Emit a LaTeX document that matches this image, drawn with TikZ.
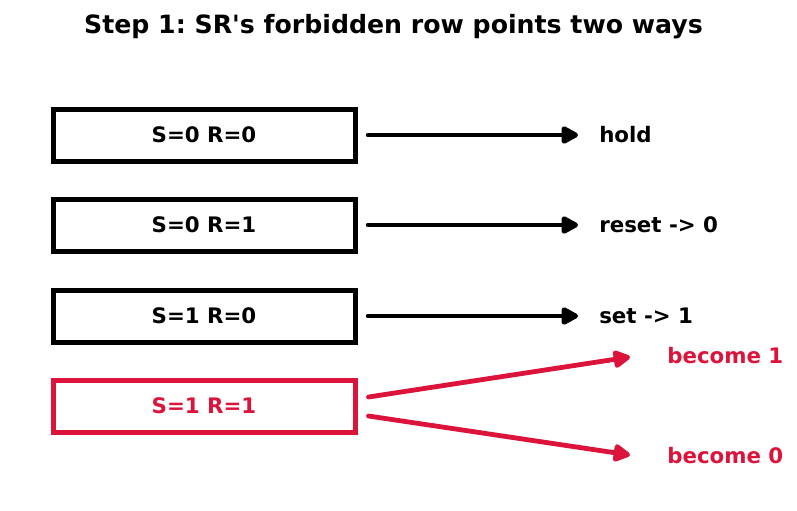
\documentclass[tikz,border=0pt]{standalone}
\usepackage{fontspec}
\setmainfont{DejaVu Sans}
\usepackage{tikz}
\usetikzlibrary{
    calc,
    arrows.meta
}
\definecolor{Forbid}{RGB}{220,20,60}
\frenchspacing

\begin{document}
\begin{tikzpicture}[x=0.75pt,y=-0.75pt,
    state/.style={draw,line width=3.75pt,minimum width=226.5pt,minimum height=39pt,
        font=\fontsize{16}{19}\selectfont\bfseries},
    result/.style={anchor=west,inner sep=0pt,font=\fontsize{16}{19}\selectfont\bfseries},
    goes/.style={line width=3.6pt,line cap=round,-{Triangle[length=14.5pt,width=14.5pt,round]}}]
      \useasboundingbox (0,0) rectangle (797,511);
      \node[anchor=base,font=\fontsize{18.9}{22}\selectfont\bfseries] (title) at (393.5,33)
          {Step 1: SR\textquotesingle s forbidden row points two ways};
      % truth table rows
      \node[state] (s00) at (204,135) {S=0 R=0};
      \node[state] (s01) at (204,225) {S=0 R=1};
      \node[state] (s10) at (204,316) {S=1 R=0};
      \node[state,Forbid] (s11) at (204,406) {S=1 R=1};
      % what each row does
      \node[result] (hold) at (599,135) {hold};
      \node[result] (reset) at (599,225) {reset -> 0};
      \node[result] (set) at (599,316) {set -> 1};
      \node[result,Forbid] (one) at (667,356) {become 1};
      \node[result,Forbid] (zero) at (667,456) {become 0};
      \draw[goes,shorten <=8pt,shorten >=15.75pt] (s00.east) -- (hold.west);
      \draw[goes,shorten <=8pt,shorten >=15.75pt] (s01.east) -- (reset.west);
      \draw[goes,shorten <=8pt,shorten >=15.75pt] (s10.east) -- (set.west);
      \coordinate (upstart) at ($(s11.east)+(11,-9)$);
      \coordinate (downstart) at ($(s11.east)+(11,10)$);
      \coordinate (uptip) at ($(one.west)+(-37,1)$);
      \coordinate (downtip) at ($(zero.west)+(-37,-1)$);
      \draw[goes,Forbid] (upstart) -- (uptip);
      \draw[goes,Forbid] (downstart) -- (downtip);
    \end{tikzpicture}
\end{document}
